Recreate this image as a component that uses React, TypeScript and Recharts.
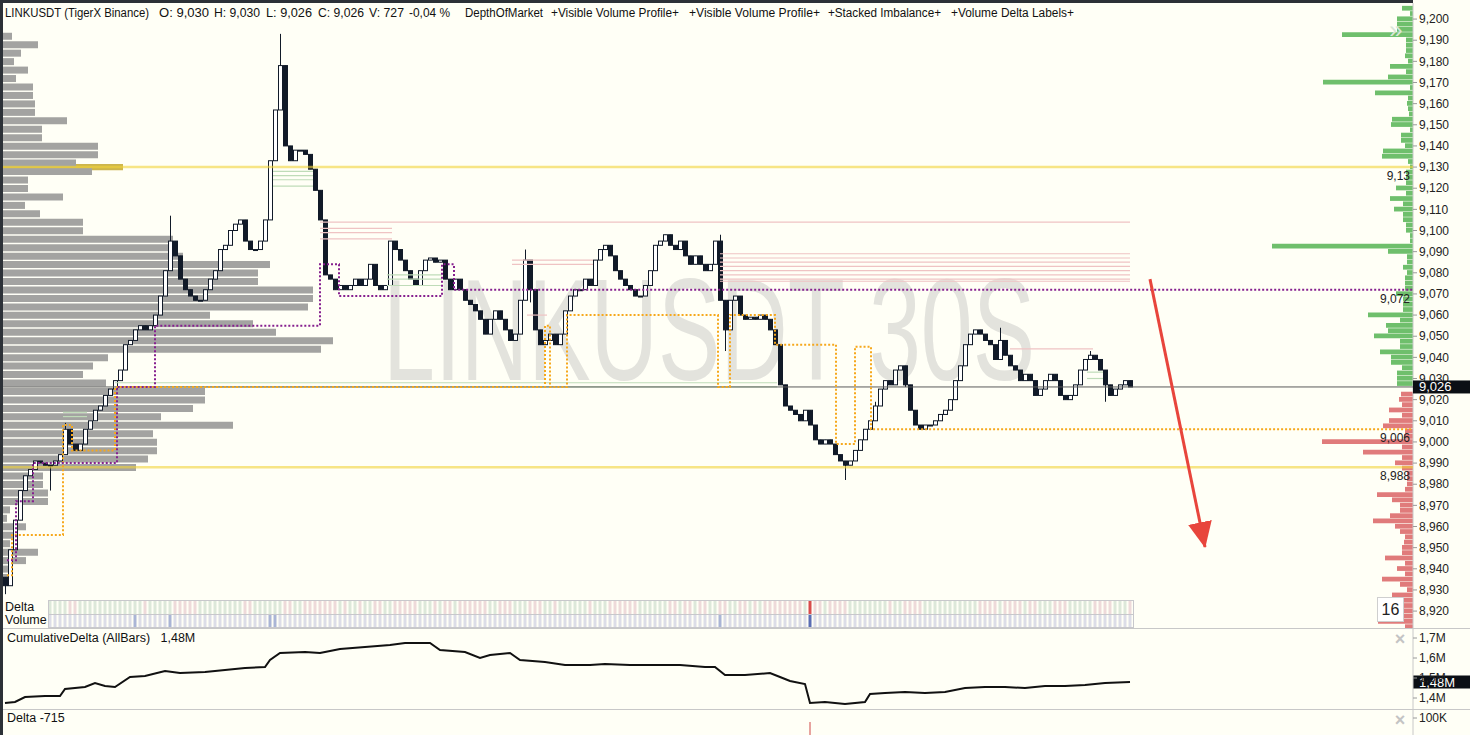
import React from "react";
import { ComposedChart, Bar, Line, XAxis, YAxis, ReferenceLine, ReferenceArea, Cell } from "recharts";

// 30s candles: close prices, open = previous close
const firstOpen = 8.936;
const closes = [
  8.932, 8.949, 8.963, 8.977, 8.984, 8.987, 8.991, 8.99, 8.989, 8.989,
  8.991, 8.994, 9.006, 8.999, 8.996, 8.999, 9.006, 9.01, 9.015, 9.017,
  9.022, 9.025, 9.029, 9.034, 9.046, 9.048, 9.053, 9.055, 9.053, 9.055,
  9.06, 9.069, 9.081, 9.095, 9.088, 9.077, 9.072, 9.069, 9.067, 9.067,
  9.072, 9.077, 9.081, 9.091, 9.093, 9.1, 9.103, 9.105, 9.095, 9.091,
  9.091, 9.095, 9.105, 9.133, 9.157, 9.178, 9.14, 9.133, 9.138, 9.138,
  9.136, 9.129, 9.119, 9.105, 9.079, 9.077, 9.072, 9.074, 9.072, 9.074,
  9.077, 9.074, 9.077, 9.084, 9.074, 9.072, 9.074, 9.095, 9.091, 9.086,
  9.081, 9.077, 9.074, 9.081, 9.086, 9.087, 9.085, 9.086, 9.077, 9.072,
  9.077, 9.072, 9.067, 9.065, 9.062, 9.058, 9.051, 9.058, 9.062, 9.058,
  9.053, 9.048, 9.051, 9.067, 9.086, 9.072, 9.053, 9.046, 9.048, 9.051,
  9.046, 9.051, 9.062, 9.069, 9.072, 9.072, 9.077, 9.074, 9.086, 9.091,
  9.093, 9.088, 9.081, 9.077, 9.074, 9.072, 9.069, 9.069, 9.074, 9.081,
  9.093, 9.095, 9.098, 9.093, 9.091, 9.095, 9.088, 9.084, 9.088, 9.084,
  9.081, 9.084, 9.095, 9.067, 9.053, 9.067, 9.069, 9.06, 9.058, 9.059,
  9.058, 9.06, 9.058, 9.053, 9.046, 9.027, 9.017, 9.015, 9.013, 9.01,
  9.015, 9.008, 9.001, 8.999, 9.001, 8.999, 8.994, 8.991, 8.989, 8.991,
  8.996, 9.001, 9.006, 9.01, 9.017, 9.025, 9.029, 9.027, 9.034, 9.036,
  9.027, 9.015, 9.008, 9.006, 9.008, 9.008, 9.01, 9.013, 9.015, 9.02,
  9.029, 9.036, 9.046, 9.051, 9.053, 9.051, 9.048, 9.046, 9.039, 9.048,
  9.041, 9.036, 9.034, 9.029, 9.032, 9.029, 9.022, 9.025, 9.029, 9.032,
  9.029, 9.022, 9.02, 9.022, 9.027, 9.034, 9.039, 9.041, 9.039, 9.034,
  9.027, 9.022, 9.025, 9.027, 9.029, 9.026,
];
// wick extremes [candle index, price]
const wickHighs = [[12, 9.009], [33, 9.107], [55, 9.193], [104, 9.091], [143, 9.098], [174, 9.019], [199, 9.054], [217, 9.043]];
const wickLows = [[0, 8.928], [9, 8.977], [105, 9.066], [144, 9.043], [168, 8.982], [180, 9.026], [220, 9.019]];

const priceTicks = [
  8.92, 8.93, 8.94, 8.95, 8.96, 8.97, 8.98, 8.99, 9.0, 9.01, 9.02, 9.03, 9.04, 9.05, 9.06,
  9.07, 9.08, 9.09, 9.1, 9.11, 9.12, 9.13, 9.14, 9.15, 9.16, 9.17, 9.18, 9.19, 9.2,
];

// visible volume profile, price step 0.004 from 8.936
const profileStart = 8.936;
const profileStep = 0.004;
const profileVol = [
  7, 7, 23, 35, 7, 15, 23, 4, 7, 45, 45, 40, 40, 133, 145, 154, 154, 150, 230, 158,
  190, 202, 202, 103, 80, 90, 105, 318, 330, 273, 250, 207, 305, 310, 310, 255, 255, 267, 180, 170,
  170, 80, 80, 37, 22, 60, 25, 25, 89, 73, 95, 95, 39, 39, 64, 32, 32, 30, 30, 13,
  25, 11, 18, 35, 9,
];
const profilePocs = [[9.13, 120], [8.988, 130]];

// depth of market, step 0.0025: asks upward from 9.0275, bids downward from 9.0225
const domStep = 0.0025;
const askStart = 9.0275;
const askVol = [
  16, 16, 16, 11, 22, 22, 33, 13, 13, 39, 25, 27, 13, 45, 10, 10, 10, 17, 8, 8,
  8, 6, 10, 6, 6, 25, 141, 3, 3, 7, 7, 10, 10, 19, 10, 23, 7, 17, 7, 7,
  7, 3, 5, 31, 30, 8, 12, 12, 3, 22, 21, 4, 5, 6, 5, 38, 3, 90, 25, 7,
  23, 5, 8, 7, 7, 7, 71, 16, 16, 16, 3, 11,
];
const bidStart = 9.0225;
const bidVol = [
  12, 14, 11, 24, 11, 24, 30, 8, 9, 91, 11, 50, 11, 18, 11, 6, 6, 6, 8, 36,
  21, 13, 13, 23, 40, 18, 13, 8, 9, 11, 11, 28, 8, 16, 8, 31, 13, 6, 21, 10,
  10, 10, 10, 35, 8,
];

// developing POC (purple) and value-area edge (orange), step lines [candle index, price]
const pocSteps = [[0.4, 8.944], [2.2, 8.972], [5.6, 8.99], [22.4, 9.026], [30, 9.055], [63, 9.084], [66.8, 9.069], [87.4, 9.084], [89.8, 9.072], [281.6, 9.072]];
const vaSteps = [[0.4, 8.937], [1.4, 8.956], [11.6, 9.008], [13.4, 8.996], [22, 9.026], [108, 9.055], [109, 9.026], [112.4, 9.06], [142.6, 9.026], [145, 9.06], [154, 9.046], [166.2, 8.999], [170, 9.045], [173.2, 9.006], [281.6, 9.006]];

// stacked imbalance levels [from index, to index, price]
const sellImbalance = [
  [63, 225, 9.104], [63, 77.4, 9.101], [63, 77.4, 9.099], [63, 77.4, 9.096],
  [143, 225, 9.089], [143, 225, 9.087], [143, 225, 9.085], [143, 225, 9.083], [143, 225, 9.081],
  [143, 225, 9.079], [143, 225, 9.077], [143, 225, 9.076], [101.4, 117.6, 9.086], [101.4, 117.6, 9.084],
  [104.4, 108.4, 9.06], [201, 217.6, 9.044],
];
const buyImbalance = [
  [22, 154.4, 9.028], [22, 154.4, 9.026], [53.6, 61.6, 9.128], [53.6, 61.6, 9.126], [53.6, 61.6, 9.124],
  [53.6, 61.6, 9.121], [76.4, 87.4, 9.079], [76.4, 87.4, 9.077], [76.4, 87.4, 9.074],
  [11.6, 16.4, 9.014], [11.6, 16.4, 9.012], [216.4, 219.6, 9.033], [216.4, 219.6, 9.03],
];

const heavyVolume = [26, 33, 53, 54, 143, 161];

// cumulative delta [candle index, value in M]
const cumIdx = [0, 2, 4, 8, 11, 12, 16, 18, 20, 22, 25, 28, 32, 35, 40, 44, 48, 52, 53, 55, 60, 63, 64, 67, 72, 77, 80, 85, 87, 92, 95, 97, 101, 103, 108, 112, 117, 120, 125, 130, 135, 140, 142, 144, 148, 153, 155, 157, 160, 161, 164, 168, 172, 173, 176, 180, 184, 188, 192, 196, 200, 204, 208, 212, 216, 220, 225];
const cumVal = [1.375, 1.38, 1.405, 1.41, 1.41, 1.445, 1.455, 1.475, 1.46, 1.455, 1.505, 1.51, 1.535, 1.525, 1.53, 1.54, 1.55, 1.555, 1.59, 1.625, 1.63, 1.625, 1.63, 1.645, 1.655, 1.665, 1.675, 1.675, 1.64, 1.63, 1.6, 1.615, 1.625, 1.59, 1.58, 1.565, 1.565, 1.57, 1.565, 1.565, 1.565, 1.555, 1.555, 1.515, 1.515, 1.525, 1.505, 1.485, 1.47, 1.375, 1.38, 1.37, 1.38, 1.42, 1.425, 1.43, 1.425, 1.43, 1.45, 1.455, 1.455, 1.45, 1.46, 1.46, 1.465, 1.475, 1.48];
const cumTicks = [1.4, 1.5, 1.6, 1.7];

const deltaSpikes = [[161, -325]];
const deltaTicks = [100];

const candles = closes.map((c, i) => {
  const o = i === 0 ? firstOpen : closes[i - 1];
  const hi = wickHighs.find((w) => w[0] === i);
  const lo = wickLows.find((w) => w[0] === i);
  const h = Math.max(o, c, hi ? hi[1] : -Infinity);
  const l = Math.min(o, c, lo ? lo[1] : Infinity);
  return { i, o, c, h, l, range: [l, h] };
});
const profile = profileVol.map((v, k) => ({ p: +(profileStart + k * profileStep).toFixed(4), v }));
const dom = [
  ...askVol.map((v, k) => ({ p: +(askStart + k * domStep).toFixed(4), v, side: "ask" })),
  ...bidVol.map((v, k) => ({ p: +(bidStart - k * domStep).toFixed(4), v, side: "bid" })),
];
const strip = candles.filter((d) => d.i >= 9).map((d) => ({ i: d.i, vol: 1, dlt: 1, up: d.c >= d.o }));
const cumData = cumIdx.map((i, k) => ({ i, v: cumVal[k] }));

const X_DOMAIN = [-0.4, 281.6];
const P_DOMAIN = [8.912, 9.2076];
const FONT = "Liberation Sans, Arial, sans-serif";
const INK = "#111a28";
const fmtPrice = (v: number) => v.toFixed(3).replace(".", ",");
const axisTick = { fontSize: 12, fill: "#222", fontFamily: FONT };

function Candle(props: any) {
  const { x, y, width, height, o, c, h, l } = props;
  const k = h - l > 0 ? height / (h - l) : 0;
  const yO = y + (h - o) * k;
  const yC = y + (h - c) * k;
  const top = Math.min(yO, yC);
  const bot = Math.max(yO, yC);
  const cx = Math.round(x + width / 2) + 0.5;
  return (
    <g>
      <line x1={cx} x2={cx} y1={y} y2={y + height} stroke={INK} strokeWidth={1} />
      <rect x={cx - 2} y={top} width={4} height={Math.max(1, bot - top)} fill={c >= o ? "#ffffff" : INK} stroke={INK} strokeWidth={1} />
    </g>
  );
}

function LevelLabel(props: any) {
  const vb = props.viewBox;
  return (
    <text x={vb.x + vb.width - 3} y={vb.y + 13} textAnchor="end" fontSize={12} fill="#222" fontFamily={FONT}>
      {props.text}
    </text>
  );
}

function AxisBox(props: any) {
  const vb = props.viewBox;
  const x = vb.x + vb.width;
  return (
    <g>
      <rect x={x} y={vb.y - 6.5} width={57} height={13} fill="#0b0f15" />
      <text x={x + 6} y={vb.y + 4.5} fontSize={13} fill="#ffffff" fontFamily={FONT}>
        {props.text}
      </text>
    </g>
  );
}

function CandleChart() {
  return (
    <ComposedChart width={1470} height={628} data={candles} margin={{ top: 3, right: 0, bottom: 0, left: 3 }}>
      <XAxis dataKey="i" type="number" domain={X_DOMAIN} hide allowDataOverflow />
      <YAxis
        orientation="right"
        width={57}
        domain={P_DOMAIN}
        allowDataOverflow
        ticks={priceTicks}
        interval={0}
        tickFormatter={fmtPrice}
        tick={axisTick}
        tickSize={4}
        tickLine={{ stroke: "#9a9a9a" }}
        axisLine={{ stroke: "#c8c8c8" }}
      />
      {sellImbalance.map(([a, b, p], k) => (
        <ReferenceLine key={"s" + k} segment={[{ x: a, y: p }, { x: b, y: p }]} stroke="#efc3c3" strokeWidth={1.2} />
      ))}
      {buyImbalance.map(([a, b, p], k) => (
        <ReferenceLine key={"b" + k} segment={[{ x: a, y: p }, { x: b, y: p }]} stroke="#bfdcb8" strokeWidth={1.2} />
      ))}
      <Bar dataKey="range" barSize={4} shape={<Candle />} isAnimationActive={false} />
    </ComposedChart>
  );
}

// level lines, step lines and annotations drawn above the candles
function LevelsChart() {
  return (
    <ComposedChart width={1470} height={628} margin={{ top: 3, right: 57, bottom: 0, left: 3 }}>
      <defs>
        <marker id="redArrow" markerWidth="26" markerHeight="24" refX="25" refY="12" orient="auto" markerUnits="userSpaceOnUse">
          <path d="M0,0 L26,12 L0,24 Z" fill="#e8453c" />
        </marker>
      </defs>
      <XAxis dataKey="i" type="number" domain={X_DOMAIN} hide allowDataOverflow />
      <YAxis domain={P_DOMAIN} hide allowDataOverflow />
      <ReferenceLine y={9.026} stroke="#5a5a5a" strokeWidth={1} label={<AxisBox text="9,026" />} />
      <ReferenceLine y={9.13} stroke="#f2d43a" strokeOpacity={0.6} strokeWidth={2.5} label={<LevelLabel text="9,13" />} />
      <ReferenceLine y={8.988} stroke="#f2d43a" strokeOpacity={0.6} strokeWidth={2.5} label={<LevelLabel text="8,988" />} />
      <ReferenceLine y={9.072} stroke="none" label={<LevelLabel text="9,072" />} />
      <ReferenceLine y={9.006} stroke="none" label={<LevelLabel text="9,006" />} />
      <Line
        data={vaSteps.map(([i, p]) => ({ i, p }))}
        dataKey="p"
        type="stepAfter"
        stroke="#f6a81c"
        strokeWidth={2}
        strokeDasharray="2 2"
        dot={false}
        isAnimationActive={false}
      />
      <Line
        data={pocSteps.map(([i, p]) => ({ i, p }))}
        dataKey="p"
        type="stepAfter"
        stroke="#86208f"
        strokeWidth={2}
        strokeDasharray="2 2"
        dot={false}
        isAnimationActive={false}
      />
      <ReferenceLine segment={[{ x: 229, y: 9.077 }, { x: 240, y: 8.9503 }]} stroke="#e8453c" strokeWidth={3} markerEnd="url(#redArrow)" />
    </ComposedChart>
  );
}

function ProfileChart() {
  return (
    <ComposedChart layout="vertical" width={1470} height={628} data={profile} margin={{ top: 3, right: 57, bottom: 0, left: 3 }}>
      <XAxis type="number" domain={[0, 1410]} hide allowDataOverflow />
      <YAxis type="number" dataKey="p" domain={P_DOMAIN} reversed hide allowDataOverflow />
      <Bar dataKey="v" fill="#a3a3a1" barSize={7} isAnimationActive={false} />
      {profilePocs.map(([p, v]) => (
        <ReferenceArea key={p} x1={0} x2={v} y1={p - 0.0015} y2={p + 0.0015} fill="#cdb54c" fillOpacity={1} stroke="none" />
      ))}
    </ComposedChart>
  );
}

function DomChart() {
  return (
    <ComposedChart layout="vertical" width={1470} height={628} data={dom} margin={{ top: 3, right: 57, bottom: 0, left: 3 }}>
      <XAxis type="number" domain={[0, 1410]} reversed hide allowDataOverflow />
      <YAxis type="number" dataKey="p" domain={P_DOMAIN} reversed hide allowDataOverflow />
      <Bar dataKey="v" barSize={5.3} isAnimationActive={false}>
        {dom.map((d, k) => (
          <Cell key={k} fill={d.side === "ask" ? "#6fbf6c" : "#e07b7b"} />
        ))}
      </Bar>
    </ComposedChart>
  );
}

function StripChart() {
  return (
    <ComposedChart width={1470} height={28} data={strip} margin={{ top: 1, right: 57, bottom: 0, left: 3 }}>
      <XAxis dataKey="i" type="number" domain={X_DOMAIN} hide allowDataOverflow />
      <YAxis domain={[0, 2]} hide />
      <Bar dataKey="vol" stackId="s" barSize={3} isAnimationActive={false}>
        {strip.map((d) => (
          <Cell key={d.i} fill={d.i === 161 ? "#5a6db4" : heavyVolume.includes(d.i) ? "#aab5d6" : "#dcdde8"} />
        ))}
      </Bar>
      <Bar dataKey="dlt" stackId="s" barSize={3} isAnimationActive={false}>
        {strip.map((d) => (
          <Cell key={d.i} fill={d.i === 161 ? "#d84c4c" : d.up ? "#dde8da" : "#eedada"} />
        ))}
      </Bar>
    </ComposedChart>
  );
}

function CumDeltaChart() {
  return (
    <ComposedChart width={1470} height={81} data={cumData} margin={{ top: 0, right: 0, bottom: 0, left: 3 }}>
      <XAxis dataKey="i" type="number" domain={X_DOMAIN} hide allowDataOverflow />
      <YAxis
        orientation="right"
        width={57}
        domain={[1.345, 1.75]}
        allowDataOverflow
        ticks={cumTicks}
        interval={0}
        tickFormatter={(v: number) => v.toFixed(1).replace(".", ",") + "M"}
        tick={axisTick}
        tickSize={4}
        tickLine={{ stroke: "#9a9a9a" }}
        axisLine={{ stroke: "#c8c8c8" }}
      />
      <Line dataKey="v" type="linear" stroke="#111111" strokeWidth={2} dot={false} isAnimationActive={false} />
      <ReferenceLine y={1.48} stroke="none" label={<AxisBox text="1,48M" />} />
    </ComposedChart>
  );
}

function DeltaChart() {
  return (
    <ComposedChart width={1470} height={26} data={deltaSpikes.map(([i, v]) => ({ i, v }))} margin={{ top: 0, right: 0, bottom: 0, left: 3 }}>
      <XAxis dataKey="i" type="number" domain={X_DOMAIN} hide allowDataOverflow />
      <YAxis
        orientation="right"
        width={57}
        domain={[-325, 325]}
        allowDataOverflow
        ticks={deltaTicks}
        interval={0}
        tickFormatter={(v: number) => v + "K"}
        tick={axisTick}
        tickSize={4}
        tickLine={{ stroke: "#9a9a9a" }}
        axisLine={{ stroke: "#c8c8c8" }}
      />
      {deltaSpikes.map(([i, v]) => (
        <ReferenceLine key={i} segment={[{ x: i, y: 0 }, { x: i, y: v }]} stroke="#d04848" strokeWidth={1} />
      ))}
    </ComposedChart>
  );
}

const headerParts: [string, number, number][] = [
  ["LINKUSDT (TigerX Binance)", 5, 144],
  ["O: 9,030", 159, 50],
  ["H: 9,030", 214, 46],
  ["L: 9,026", 266, 46],
  ["C: 9,026", 318, 46],
  ["V: 727", 369, 35],
  ["-0,04 %", 409, 41],
  ["DepthOfMarket", 465, 78],
  ["+Visible Volume Profile+", 551, 128],
  ["+Visible Volume Profile+", 689, 131],
  ["+Stacked Imbalance+", 828, 113],
  ["+Volume Delta Labels+", 951, 123],
];

const layer: React.CSSProperties = { position: "absolute", left: 0 };

export default function App() {
  return (
    <div style={{ position: "absolute", left: 0, top: 0, width: 1470, height: 735, background: "#fffff6", overflow: "hidden", fontFamily: FONT }}>
      <svg width={1470} height={735} style={{ ...layer, top: 0 }}>
        <text x={383} y={380} fontSize={144} fill="#e3e3dd" fontFamily={FONT} textLength={652} lengthAdjust="spacingAndGlyphs">
          LINKUSDT 30S
        </text>
      </svg>
      <div style={{ ...layer, top: 0 }}>
        <ProfileChart />
      </div>
      <div style={{ ...layer, top: 0 }}>
        <DomChart />
      </div>
      <div style={{ ...layer, top: 0 }}>
        <CandleChart />
      </div>
      <div style={{ ...layer, top: 0 }}>
        <LevelsChart />
      </div>
      <div style={{ ...layer, top: 600 }}>
        <StripChart />
      </div>
      <div style={{ ...layer, top: 628 }}>
        <CumDeltaChart />
      </div>
      <div style={{ ...layer, top: 709 }}>
        <DeltaChart />
      </div>
      <svg width={1470} height={735} style={{ ...layer, top: 0, pointerEvents: "none" }}>
        <rect x={0} y={0} width={1413} height={3} fill="#2c3137" />
        <rect x={0} y={0} width={3} height={735} fill="#2c3137" />
        <line x1={3} x2={1470} y1={628.5} y2={628.5} stroke="#c8c8c8" />
        <line x1={3} x2={1470} y1={709.5} y2={709.5} stroke="#c8c8c8" />
        <rect x={48.5} y={600.5} width={1085} height={27} fill="none" stroke="#c8c8cc" />
        <line x1={48.5} x2={1133.5} y1={614.5} y2={614.5} stroke="#c8c8cc" />
        {headerParts.map(([t, x, len], k) => (
          <text key={k} x={x} y={17} fontSize={12.5} fill="#111" fontFamily={FONT} textLength={len} lengthAdjust="spacingAndGlyphs">
            {t}
          </text>
        ))}
        <text x={5} y={611} fontSize={12.5} fill="#111" fontFamily={FONT}>Delta</text>
        <text x={5} y={624} fontSize={12.5} fill="#111" fontFamily={FONT}>Volume</text>
        <text x={7} y={642} fontSize={12.5} fill="#111" fontFamily={FONT} xmlSpace="preserve">CumulativeDelta (AllBars)   1,48M</text>
        <text x={7} y={722} fontSize={12.5} fill="#111" fontFamily={FONT}>Delta -715</text>
        <rect x={1377.5} y={597.5} width={26} height={24} fill="#ffffff" stroke="#cfcfcf" />
        <text x={1390.5} y={615} fontSize={16} fill="#222" textAnchor="middle" fontFamily={FONT}>16</text>
        <text x={1400} y={645} fontSize={18} fill="#c4c4c4" textAnchor="middle" fontWeight="bold" fontFamily={FONT}>×</text>
        <text x={1400} y={726} fontSize={18} fill="#c4c4c4" textAnchor="middle" fontWeight="bold" fontFamily={FONT}>×</text>
        <text x={1396} y={38} fontSize={24} fill="#d9e6d6" textAnchor="middle" fontFamily={FONT}>»</text>
      </svg>
    </div>
  );
}
